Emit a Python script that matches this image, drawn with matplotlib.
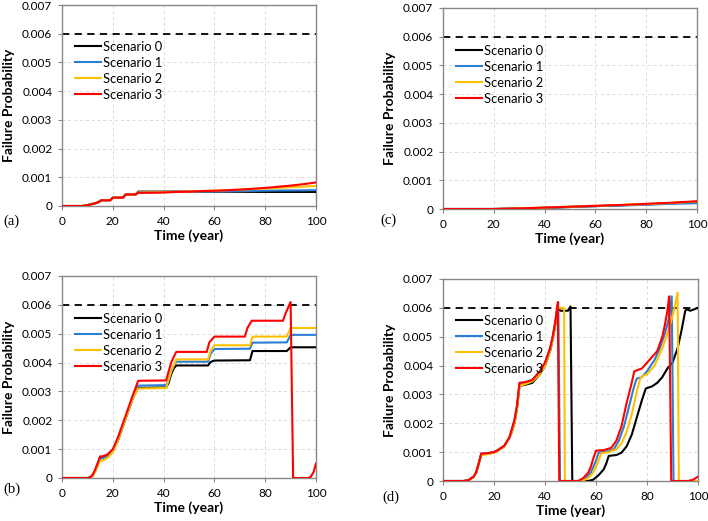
import matplotlib
matplotlib.use("Agg")
import matplotlib.pyplot as plt
from matplotlib.ticker import FuncFormatter

plt.rcParams['font.family'] = ['Lato', 'DejaVu Sans']

labels = ['Scenario 0', 'Scenario 1', 'Scenario 2', 'Scenario 3']
colors = ['#000000', '#2a7fd4', '#ffc000', '#ff0000']
limit = 0.006

# ---- panel (a) ----
a_t0 = [0, 8, 10, 12, 14, 15.5, 19, 20, 24, 25, 29, 30, 40, 60, 80, 100]
a_p0 = [0, 0, 0.00003, 0.00007, 0.00012, 0.0002, 0.0002, 0.00029, 0.00029, 0.0004, 0.0004,
        0.0005, 0.0005, 0.0005, 0.00049, 0.00049]
a_t1 = [0, 8, 10, 12, 14, 15.5, 19, 20, 24, 25, 29, 30, 40, 55, 70, 85, 100]
a_p1 = [0, 0, 0.00003, 0.00007, 0.00012, 0.0002, 0.0002, 0.00029, 0.00029, 0.0004, 0.0004,
        0.00048, 0.00049, 0.0005, 0.00052, 0.00054, 0.00055]
a_t2 = [0, 8, 10, 12, 14, 15.5, 19, 20, 24, 25, 29, 30, 40, 55, 70, 85, 100]
a_p2 = [0, 0, 0.00003, 0.00007, 0.00012, 0.0002, 0.0002, 0.00029, 0.00029, 0.0004, 0.0004,
        0.00047, 0.00048, 0.00052, 0.00057, 0.00063, 0.0007]
a_t3 = [0, 8, 10, 12, 14, 15.5, 19, 20, 24, 25, 29, 30, 35, 40, 45, 50, 55, 60, 65, 70, 75,
        80, 85, 90, 95, 100]
a_p3 = [0, 0, 0.00003, 0.00007, 0.00012, 0.0002, 0.0002, 0.00029, 0.00029, 0.0004, 0.0004,
        0.00046, 0.00046, 0.00047, 0.00049, 0.0005, 0.00052, 0.00053, 0.00055, 0.00057, 0.0006,
        0.00063, 0.00067, 0.00071, 0.00076, 0.00082]

# ---- panel (c) ----
c_t = [0, 20, 30, 40, 50, 60, 70, 80, 90, 100]
c_p0 = [0, 0, 0.00002, 0.00004, 0.00007, 0.0001, 0.00013, 0.00016, 0.0002, 0.00023]
c_p1 = [0, 0, 0.00002, 0.00004, 0.00007, 0.0001, 0.00012, 0.00015, 0.00018, 0.0002]
c_p2 = [0, 0, 0.00002, 0.00005, 0.00008, 0.00011, 0.00014, 0.00017, 0.00021, 0.00026]
c_p3 = [0, 0, 0.00002, 0.00005, 0.00008, 0.00011, 0.00014, 0.00018, 0.00022, 0.00027]

# ---- panel (b) ----
b_t0 = [0, 10, 11, 12, 13, 14, 15, 16, 18, 20, 22, 24, 26, 28, 30, 41, 42, 43, 44, 45,
        57.5, 58.5, 60, 74, 75, 88.5, 90, 100]
b_p0 = [0, 0, 0.00001, 0.00008, 0.00025, 0.00048, 0.0007, 0.0007, 0.00078, 0.00095, 0.0013,
        0.0018, 0.0023, 0.0028, 0.00312, 0.00314, 0.0033, 0.0036, 0.0038, 0.0039,
        0.0039, 0.00402, 0.00407, 0.00408, 0.0044, 0.0044, 0.00453, 0.00453]
b_t1 = [0, 10, 11, 12, 13, 14, 15, 16, 18, 20, 22, 24, 26, 28, 30, 41, 42, 43, 44, 45,
        57.5, 58.5, 60, 74, 75, 88.5, 90, 100]
b_p1 = [0, 0, 0.00001, 0.00008, 0.00024, 0.00046, 0.00068, 0.00068, 0.00076, 0.00095, 0.0013,
        0.0018, 0.0023, 0.0028, 0.0032, 0.00322, 0.0034, 0.0037, 0.0039, 0.00403,
        0.00403, 0.0043, 0.00447, 0.00448, 0.00469, 0.0047, 0.00496, 0.00496]
b_t2 = [0, 10, 11, 12, 13, 14, 15, 16, 18, 20, 22, 24, 26, 28, 30, 41, 42, 43, 44, 45,
        57.5, 58.5, 60, 74, 75, 88.5, 90, 100]
b_p2 = [0, 0, 0.00001, 0.00007, 0.0002, 0.0004, 0.0006, 0.0006, 0.0007, 0.0009, 0.0013,
        0.0018, 0.0023, 0.0028, 0.0031, 0.00312, 0.0034, 0.0037, 0.0039, 0.00411,
        0.00411, 0.0044, 0.0046, 0.0046, 0.0049, 0.0049, 0.0052, 0.0052]
b_t3 = [0, 10, 11, 12, 13, 14, 15, 16, 18, 20, 22, 24, 26, 28, 30, 41, 42, 43, 44, 45,
        57, 58, 60, 72, 73, 74.7, 87, 88, 89, 90, 91, 97, 98, 99, 100]
b_p3 = [0, 0, 0.00002, 0.0001, 0.00028, 0.0005, 0.00075, 0.00075, 0.00082, 0.001, 0.0014,
        0.0019, 0.0024, 0.0029, 0.00337, 0.00338, 0.0037, 0.004, 0.0042, 0.00437,
        0.00437, 0.0047, 0.0049, 0.0049, 0.0052, 0.00545, 0.00545, 0.0057, 0.0059, 0.0061,
        0, 0, 0.00005, 0.0002, 0.0005]

# ---- panel (d) ----
d_t0 = [0, 8, 10, 12, 13, 14, 15, 17, 20, 22, 24, 26, 27, 28, 29, 30, 32, 35, 38, 40, 42,
        43, 44, 45, 46, 49, 50, 50.7, 57, 59, 61, 63, 64, 65, 68, 70, 72, 74, 76, 78, 79.5,
        80, 82, 84, 86, 88, 90, 92, 93.5, 95, 95.5, 97, 98.5, 100]
d_p0 = [0, 0, 0.00003, 0.00014, 0.0003, 0.0006, 0.00093, 0.00094, 0.00098, 0.00108, 0.0012,
        0.0015, 0.0017, 0.002, 0.0025, 0.0033, 0.00333, 0.0034, 0.0037, 0.004, 0.0045,
        0.0049, 0.0054, 0.006, 0.0059, 0.0059, 0.00605, 0, 0, 0.00005, 0.0002, 0.0004,
        0.0006, 0.00087, 0.0009, 0.00098, 0.0012, 0.0016, 0.0022, 0.0028, 0.0032,
        0.00322, 0.00328, 0.0034, 0.0036, 0.0039, 0.0041, 0.0046, 0.0052, 0.0059, 0.00595,
        0.0059, 0.00595, 0.006]
d_t1 = [0, 8, 10, 12, 13, 14, 15, 17, 20, 22, 24, 26, 27, 28, 29, 30, 32, 35, 38, 40, 42,
        43, 44, 45.2, 45.9, 54, 56, 58, 59, 60, 61, 64, 67, 69, 71, 73, 75, 76, 78, 80, 83,
        85, 87, 88.5, 89.7, 90.4, 100]
d_p1 = [0, 0, 0.00003, 0.00015, 0.0003, 0.0006, 0.00095, 0.00096, 0.001, 0.0011, 0.00122,
        0.0015, 0.0018, 0.0021, 0.0026, 0.0034, 0.00342, 0.0035, 0.0038, 0.0041, 0.0046,
        0.005, 0.0055, 0.0062, 0, 0, 0.0001, 0.0003, 0.0005, 0.0007, 0.00098, 0.00102,
        0.0011, 0.0014, 0.0019, 0.0026, 0.0033, 0.00355, 0.0036, 0.0038, 0.0042, 0.0046,
        0.0051, 0.0056, 0.0064, 0, 0]
d_t2 = [0, 8, 10, 12, 13, 14, 15, 17, 20, 22, 24, 26, 27, 28, 29, 30, 32, 35, 38, 40, 42,
        43, 44, 45, 47.5, 47.8, 54.5, 57, 59, 60, 61, 62, 65, 68, 70, 72, 74, 76, 77.5, 80,
        83, 86, 88, 90, 91, 92, 92.5, 100]
d_p2 = [0, 0, 0.00003, 0.00014, 0.0003, 0.0006, 0.0009, 0.00092, 0.00098, 0.00108, 0.0012,
        0.0015, 0.0017, 0.002, 0.0025, 0.0033, 0.00335, 0.00345, 0.0037, 0.004, 0.0045,
        0.0049, 0.0054, 0.006, 0.006, 0, 0, 0.0001, 0.0003, 0.0005, 0.0007, 0.00096,
        0.001, 0.0011, 0.0013, 0.0017, 0.0023, 0.0031, 0.0036, 0.0037, 0.004, 0.0046,
        0.0051, 0.0057, 0.0061, 0.00653, 0, 0]
d_t3 = [0, 8, 10, 12, 13, 14, 15, 17, 20, 22, 24, 26, 27, 28, 29, 30, 32, 35, 38, 40, 42,
        43, 44, 45, 45.6, 53, 55, 57, 58, 59, 60, 63, 66, 68, 70, 72, 74, 75, 78, 80, 82,
        84, 86, 87, 88, 88.7, 89.5, 96, 98, 100]
d_p3 = [0, 0, 0.00003, 0.00015, 0.0003, 0.0006, 0.00095, 0.00096, 0.001, 0.0011, 0.00122,
        0.0015, 0.0018, 0.0021, 0.0026, 0.0034, 0.00342, 0.0035, 0.0038, 0.0041, 0.0046,
        0.005, 0.0055, 0.0062, 0, 0, 0.0001, 0.0003, 0.0005, 0.0008, 0.00105, 0.00107,
        0.00115, 0.0014, 0.0019, 0.0027, 0.0034, 0.0038, 0.0039, 0.0041, 0.0043, 0.0045,
        0.005, 0.0054, 0.0059, 0.0064, 0, 0, 0.00004, 0.00015]

panels = {
    'a': ([a_t0, a_t1, a_t2, a_t3], [a_p0, a_p1, a_p2, a_p3]),
    'c': ([c_t, c_t, c_t, c_t], [c_p0, c_p1, c_p2, c_p3]),
    'b': ([b_t0, b_t1, b_t2, b_t3], [b_p0, b_p1, b_p2, b_p3]),
    'd': ([d_t0, d_t1, d_t2, d_t3], [d_p0, d_p1, d_p2, d_p3]),
}

W, H = 708, 521
# axes boxes in pixels: left, top, right, bottom
boxes = {
    'a': (62, 5, 316, 206),
    'c': (443, 8, 697, 209),
    'b': (62, 276, 316, 478),
    'd': (443, 279, 698, 481),
}
tag_pos = {'a': (3, 221), 'c': (380, 220), 'b': (3, 489), 'd': (382, 497)}
legend_top = {'a': 36, 'c': 37, 'b': 37, 'd': 36}


def fmt_y(v, pos):
    return '0' if abs(v) < 1e-12 else '%.3f' % v


fig = plt.figure(figsize=(W / 100, H / 100), dpi=100)

for key, (ts, ps) in panels.items():
    l, t, r, b = boxes[key]
    ax = fig.add_axes([l / W, 1 - b / H, (r - l) / W, (b - t) / H])
    ax.axhline(limit, color='k', linestyle=(0, (4, 3)), linewidth=1.3, zorder=2)
    for i in range(4):
        ax.plot(ts[i], ps[i], color=colors[i], linewidth=1.5, label=labels[i], zorder=3)
    ax.set_xlim(0, 100)
    ax.set_ylim(0, 0.007)
    ax.set_xticks([0, 20, 40, 60, 80, 100])
    ax.set_yticks([0, 0.001, 0.002, 0.003, 0.004, 0.005, 0.006, 0.007])
    ax.yaxis.set_major_formatter(FuncFormatter(fmt_y))
    ax.tick_params(labelsize=8.5, length=3, width=0.8, color='#888888', pad=4)
    ax.grid(True, color='#d9d9d9', linestyle=(0, (3, 3)), linewidth=0.7)
    ax.set_axisbelow(True)
    for s in ax.spines.values():
        s.set_color('#888888')
        s.set_linewidth(1.0)
    ax.set_ylabel('Failure Probability', fontsize=10, fontweight='bold')
    ax.set_xlabel('Time (year)', fontsize=10, fontweight='bold')
    ax.yaxis.set_label_coords(-47 / (r - l), 0.5)
    ax.xaxis.set_label_coords(0.5, -23 / (b - t))
    ax.legend(loc='upper left', bbox_to_anchor=(13 / (r - l), 1 - legend_top[key] / (b - t)),
              frameon=False, fontsize=9.3, handlelength=2.0, handletextpad=0.2,
              labelspacing=0.3, borderpad=0, borderaxespad=0)
    fig.text(tag_pos[key][0] / W, 1 - tag_pos[key][1] / H, '(%s)' % key,
             family='Liberation Serif', fontsize=10.5, va='center', ha='left')

fig.savefig('out.png', dpi=100)
